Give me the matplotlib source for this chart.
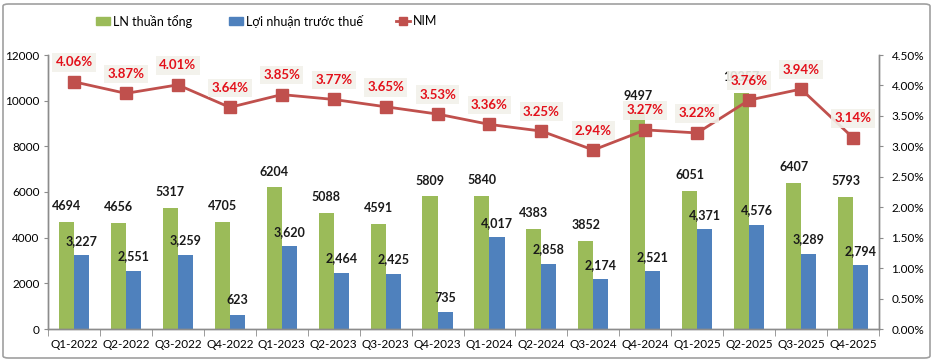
import matplotlib
matplotlib.use("Agg")
import matplotlib.pyplot as plt
import numpy as np
from matplotlib.patches import FancyBboxPatch
from matplotlib.lines import Line2D
from matplotlib.patches import Patch
from matplotlib.ticker import FuncFormatter, FixedLocator

plt.rcParams['font.family'] = ['Lato', 'DejaVu Sans']

quarters = ["Q1-2022", "Q2-2022", "Q3-2022", "Q4-2022", "Q1-2023", "Q2-2023", "Q3-2023", "Q4-2023",
            "Q1-2024", "Q2-2024", "Q3-2024", "Q4-2024", "Q1-2025", "Q2-2025", "Q3-2025", "Q4-2025"]
ln_thuan = [4694, 4656, 5317, 4705, 6204, 5088, 4591, 5809, 5840, 4383, 3852, 9497, 6051, 10357, 6407, 5793]
lntt = [3227, 2551, 3259, 623, 3620, 2464, 2425, 735, 4017, 2858, 2174, 2521, 4371, 4576, 3289, 2794]
nim = [4.06, 3.87, 4.01, 3.64, 3.85, 3.77, 3.65, 3.53, 3.36, 3.25, 2.94, 3.27, 3.22, 3.76, 3.94, 3.14]

GREEN = "#9BBB59"
BLUE = "#4F81BD"
RED = "#C0504D"
LABEL_RED = "#E3101A"
BOX = "#F2F1EA"
AXIS = "#8C8C8C"

fig = plt.figure(figsize=(9.35, 3.62), dpi=100)
ax = fig.add_axes([48/935, 1-329/362, (879-48)/935, (329-55)/362])
ax2 = ax.twinx()

x = np.arange(len(quarters))
w = 0.29
ax.bar(x - w/2, ln_thuan, w, color=GREEN, zorder=2)
ax.bar(x + w/2, lntt, w, color=BLUE, zorder=2)

for xi, v in zip(x, ln_thuan):
    ax.annotate(f"{v}", (xi - w/2, v), xytext=(0, 7), textcoords="offset points",
                ha="center", va="bottom", fontsize=9, fontweight="bold", color="#1a1a1a", zorder=3)
for xi, v in zip(x, lntt):
    ax.annotate(f"{v:,}", (xi + w/2, v), xytext=(0, 6), textcoords="offset points",
                ha="center", va="bottom", fontsize=9, fontweight="bold", color="#1a1a1a", zorder=3)

ax.set_xlim(-0.5, len(quarters) - 0.5)
ax.set_ylim(0, 12000)
ax.set_yticks(np.arange(0, 12001, 2000))
ax.set_xticks(x)
ax.set_xticklabels(quarters, fontsize=8.5)
ax.xaxis.set_minor_locator(FixedLocator(np.arange(-0.5, len(quarters), 1)))
ax.tick_params(axis="x", which="major", length=0, pad=7)
ax.tick_params(axis="x", which="minor", length=5, color=AXIS, direction="out")
ax.tick_params(axis="y", length=3, color=AXIS, labelsize=8.5, pad=3)

ax2.set_ylim(0, 4.5)
ax2.set_yticks(np.arange(0, 4.51, 0.5))
ax2.yaxis.set_major_formatter(FuncFormatter(lambda v, p: f"{v:.2f}%"))
ax2.tick_params(axis="y", length=3, color=AXIS, labelsize=8.5, pad=6)
ax2.plot(x, nim, color=RED, lw=2, marker="s", markersize=8, zorder=4)
for xi, v in zip(x, nim):
    ax2.annotate(f"{v:.2f}%", (xi, v), xytext=(0, 14), textcoords="offset points",
                 ha="center", va="center", fontsize=9.5, fontweight="bold", color=LABEL_RED, zorder=6,
                 bbox=dict(boxstyle="square,pad=0.25", fc=BOX, ec="none", alpha=0.9))

for a in (ax, ax2):
    a.spines["top"].set_visible(False)
    for s in ("left", "right", "bottom"):
        a.spines[s].set_color(AXIS)
        a.spines[s].set_linewidth(1)
ax2.set_zorder(ax.get_zorder() + 1)
ax2.patch.set_visible(False)

handles = [Patch(color=GREEN), Patch(color=BLUE),
           Line2D([0], [0], color=RED, lw=2, marker="s", markersize=6)]
labels = ["LN thuần tổng", "Lợi nhuận trước thuế", "NIM"]
legend_x = [96, 229, 396]
for h, lab, lx in zip(handles, labels, legend_x):
    fig.legend([h], [lab], loc="center left", bbox_to_anchor=(lx/935, 1-21/362),
               frameon=False, fontsize=9, handlelength=1.15, handleheight=0.6, handletextpad=0.2,
               borderaxespad=0, borderpad=0)

fig.patches.append(FancyBboxPatch((3/935, 4/362), 927/935, 354/362, boxstyle="round,pad=0,rounding_size=0.006",
                                  transform=fig.transFigure, fc="none", ec="#A0A0A0", lw=1.2))

fig.savefig("out.png", dpi=100)
